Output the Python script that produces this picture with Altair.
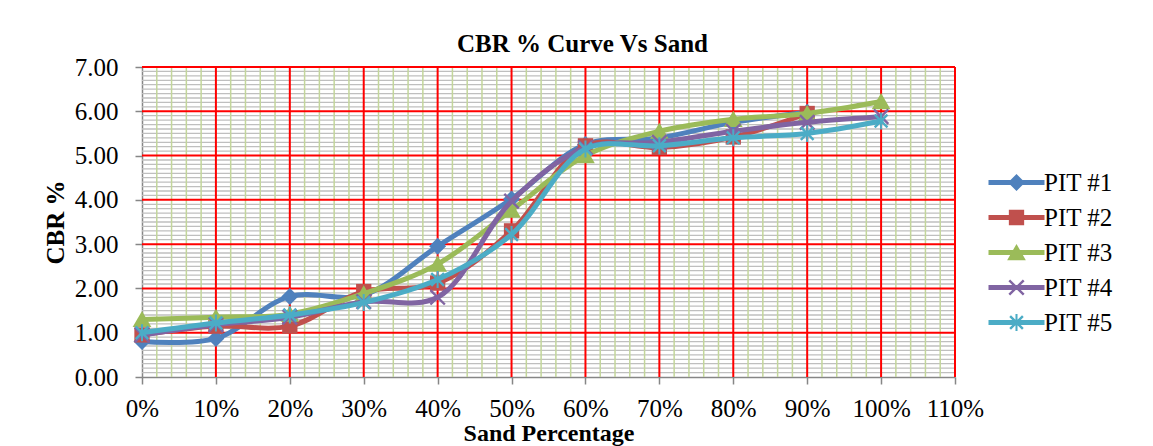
import altair as alt
import pandas as pd

# ---------------- data ----------------
sand = [0.0, 0.1, 0.2, 0.3, 0.4, 0.5, 0.6, 0.7, 0.8, 0.9, 1.0]
series_names = ["PIT #1", "PIT #2", "PIT #3", "PIT #4", "PIT #5"]
pit1 = [0.80, 0.87, 1.82, 1.85, 2.95, 4.02, 5.25, 5.40, 5.75, 5.98]
pit2 = [0.95, 1.15, 1.15, 1.93, 2.12, 3.30, 5.22, 5.18, 5.42, 5.95]
pit3 = [1.30, 1.35, 1.42, 1.88, 2.55, 3.77, 5.00, 5.55, 5.82, 5.95, 6.22]
pit4 = [0.95, 1.18, 1.35, 1.70, 1.80, 3.97, 5.18, 5.30, 5.55, 5.75, 5.88]
pit5 = [1.00, 1.22, 1.40, 1.68, 2.20, 3.22, 5.15, 5.22, 5.40, 5.50, 5.78]
colors = ["#4F81BD", "#C0504D", "#9BBB59", "#8064A2", "#4BACC6"]

x_ticks = [0.0, 0.1, 0.2, 0.3, 0.4, 0.5, 0.6, 0.7, 0.8, 0.9, 1.0, 1.1]
y_ticks = [0, 1, 2, 3, 4, 5, 6, 7]
x_major = [0.1, 0.2, 0.3, 0.4, 0.5, 0.6, 0.7, 0.8, 0.9, 1.0, 1.1]
y_major = [1, 2, 3, 4, 5, 6, 7]
x_minor = [round(i * 0.02, 2) for i in range(1, 55) if i % 5]
y_minor = [round(i * 0.1, 1) for i in range(1, 70) if i % 10]

FONT = "Liberation Serif"

# ---------------- marker shapes ----------------
def poly(pts, s=1.0):
    return "M " + " L ".join(f"{x * s:.3f} {y * s:.3f}" for x, y in pts) + " Z"

def xbars(a, e):
    b1 = [(-a + e, -a - e), (a + e, a - e), (a - e, a + e), (-a - e, -a + e)]
    b2 = [(-a - e, a - e), (a - e, -a - e), (a + e, -a + e), (-a + e, a + e)]
    return [b1, b2]

diamond = [[(0, -1), (1, 0), (0, 1), (-1, 0)]]
square = [[(-0.9, -0.9), (0.9, -0.9), (0.9, 0.9), (-0.9, 0.9)]]
triangle = [[(0, -1), (1.1, 0.9), (-1.1, 0.9)]]
xmark = xbars(0.85, 0.1)
star = xbars(0.75, 0.1) + [[(-0.12, -1), (0.12, -1), (0.12, 1), (-0.12, 1)]]
markers = [diamond, square, triangle, xmark, star]

def shape_path(polys, s=1.0):
    return " ".join(poly(p, s) for p in polys)

chart_paths = [shape_path(m) for m in markers]
bar = [(-2.8, -0.25), (2.8, -0.25), (2.8, 0.25), (-2.8, 0.25)]
legend_paths = [poly(bar) + " " + shape_path(m, 0.85) for m in markers]

# ---------------- encodings ----------------
xscale = alt.Scale(domain=[0, 1.1], nice=False, zero=False)
yscale = alt.Scale(domain=[0, 7], nice=False, zero=False)

xaxis = alt.Axis(values=x_ticks, format=".0%", grid=False, labelFont=FONT, labelFontSize=25,
                 labelColor="black", labelPadding=12, labelFlush=False, labelOverlap=False,
                 tickColor="#868686", tickSize=7, tickWidth=1.5, domainColor="#868686",
                 domainWidth=1.5, title="Sand Percentage", titleFont=FONT, titleFontSize=24,
                 titleFontWeight="bold", titleColor="black", titleY=44, titleBaseline="top")
yaxis = alt.Axis(values=y_ticks, format=".2f", grid=False, labelFont=FONT, labelFontSize=25,
                 labelColor="black", labelPadding=17, labelOverlap=False,
                 tickColor="#868686", tickSize=7, tickWidth=1.5, domainColor="#868686",
                 domainWidth=1.5, title="CBR %", titleFont=FONT, titleFontSize=25,
                 titleFontWeight="bold", titleColor="black", titleAngle=270, titleX=-79,
                 titleY=155, titleBaseline="alphabetic", titleAlign="center")

def X(f):
    return alt.X(f"{f}:Q", scale=xscale, axis=xaxis)

def Y(f):
    return alt.Y(f"{f}:Q", scale=yscale, axis=yaxis)

# ---------------- grid ----------------
layers = []
layers.append(alt.Chart(pd.DataFrame({"gy": y_minor})).mark_rule(color="#BFBFBF", strokeWidth=1.3)
              .encode(y=Y("gy")))
layers.append(alt.Chart(pd.DataFrame({"gx": x_minor})).mark_rule(color="#C3D69B", strokeWidth=1.5)
              .encode(x=X("gx")))
layers.append(alt.Chart(pd.DataFrame({"gy": y_major})).mark_rule(color="#FF0000", strokeWidth=2)
              .encode(y=Y("gy")))
layers.append(alt.Chart(pd.DataFrame({"gx": x_major})).mark_rule(color="#FF0000", strokeWidth=2)
              .encode(x=X("gx")))

# ---------------- series ----------------
all_vals = [pit1, pit2, pit3, pit4, pit5]
for name, vals, col, path in zip(series_names, all_vals, colors, chart_paths):
    d = pd.DataFrame({"sand": sand[:len(vals)], "cbr": vals, "series": name})
    base = alt.Chart(d).encode(x=X("sand"), y=Y("cbr"))
    layers.append(base.mark_line(color=col, strokeWidth=5, interpolate="catmull-rom",
                                 strokeJoin="round", strokeCap="round"))
    layers.append(base.mark_point(shape=path, filled=True, color=col, size=289, opacity=1,
                                  strokeWidth=0))

# ---------------- legend ----------------
leg = alt.Legend(orient="none", legendX=862, legendY=103, title=None, labelFont=FONT,
                 labelFontSize=25, labelColor="black", symbolSize=400, symbolStrokeWidth=0,
                 labelOffset=15, rowPadding=9, padding=0, symbolOpacity=1)
leg_df = pd.DataFrame({"series": series_names, "sand": [0.0] * 5, "cbr": [0.0] * 5})
layers.append(alt.Chart(leg_df).transform_filter("false")
              .mark_point(filled=True, opacity=1, strokeWidth=0)
              .encode(x=X("sand"), y=Y("cbr"),
                      color=alt.Color("series:N", scale=alt.Scale(domain=series_names, range=colors), legend=leg),
                      shape=alt.Shape("series:N", scale=alt.Scale(domain=series_names, range=legend_paths), legend=leg)))

chart = alt.layer(*layers).properties(
    width=813, height=310,
    autosize=alt.AutoSizeParams(type="none"),
    padding={"left": 134, "top": 59, "right": 170, "bottom": 69},
    title=alt.TitleParams(text="CBR % Curve Vs  Sand", font=FONT, fontSize=25, fontWeight="bold",
                          color="black", anchor="middle", dx=34, dy=10, offset=8),
).configure_view(strokeWidth=0).configure_legend(
    labelFont=FONT, labelFontSize=25, labelColor="black"
).configure(font=FONT)

chart.save("out.html", embed_options={"renderer": "svg", "actions": False})
